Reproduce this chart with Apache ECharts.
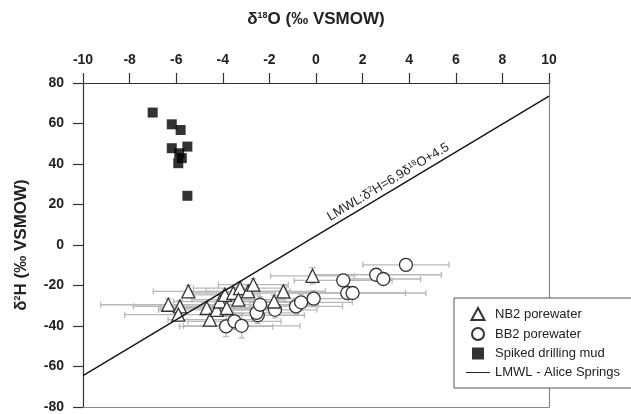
<!DOCTYPE html>
<html><head><meta charset="utf-8">
<script src="https://cdn.jsdelivr.net/npm/echarts@6/dist/echarts.min.js"></script>
<style>html,body{margin:0;padding:0;background:#fff}#c{width:631px;height:414px}</style>
</head><body><div id="c"></div>
<script>
// Axis ranges / ticks
const xMin = -10, xMax = 10, xStep = 2;
const yMin = -80, yMax = 80, yStep = 20;

// NB2 porewater (triangles)
const nb2X    = [-6.34, -5.84, -5.48, -5.91, -4.69, -4.55, -4.26, -4.12, -3.83, -3.91, -3.55, -3.26, -2.91, -2.69, -3.33, -1.80, -1.40, -0.15];
const nb2Y    = [-29.5, -30.3, -22.9, -34.4, -31.1, -36.9, -32.0, -27.9, -31.1, -24.6, -23.7, -21.3, -22.9, -19.6, -27.0, -27.9, -22.9, -15.2];
const nb2XErr = [2.9, 2.0, 1.5, 2.3, 2.0, 1.8, 2.5, 2.0, 2.2, 1.5, 1.8, 2.0, 1.8, 1.5, 2.0, 1.5, 1.8, 1.8];
const nb2YErr = [3, 3, 3, 3, 3, 3, 3, 3, 3, 3, 3, 3, 3, 3, 3, 3, 3, 4];

// BB2 porewater (circles)
const bb2X    = [-3.86, -3.50, -3.19, -2.50, -2.55, -2.40, -1.76, -0.86, -0.64, -0.10, 1.17, 1.34, 1.57, 2.58, 2.89, 3.86];
const bb2Y    = [-40.2, -37.7, -39.9, -34.7, -33.5, -29.5, -32.0, -30.3, -28.3, -26.5, -17.5, -23.7, -23.7, -14.7, -16.8, -9.8];
const bb2XErr = [2.0, 2.0, 2.5, 2.0, 1.8, 2.5, 1.8, 2.0, 2.2, 1.5, 2.1, 2.5, 3.15, 2.8, 1.6, 1.85];
const bb2YErr = [5, 4, 6, 4, 4, 4, 4, 4, 4, 4, 3, 3, 3, 3, 3, 3];

// Spiked drilling mud (squares)
const mudX = [-7.01, -6.19, -5.81, -6.19, -5.52, -5.87, -5.76, -5.91, -5.52];
const mudY = [65.4, 59.6, 56.8, 47.8, 48.6, 45.3, 42.9, 40.4, 24.3];

// LMWL: d2H = 6.9 d18O + 4.5
const lmwlSlope = 6.9, lmwlIntercept = 4.5;
const lmwlX = [-10, 10];
const lmwlLabelX = [-3.4, 10];

const FONT = 'Liberation Sans, Arial, sans-serif';

function errSeries(name, xs, ys, xe, ye) {
  return {
    type: 'custom', name: name, silent: true, z: 1, clip: false,
    encode: {x: 0, y: 1},
    data: xs.map((x, i) => [x, ys[i], xe[i], ye[i]]),
    renderItem: function (params, api) {
      const x = api.value(0), y = api.value(1), dx = api.value(2), dy = api.value(3);
      const l = api.coord([x - dx, y]), r = api.coord([x + dx, y]);
      const t = api.coord([x, y + dy]), b = api.coord([x, y - dy]);
      const c = 3;
      const st = {stroke: '#b8b8b8', lineWidth: 1.3};
      const ln = (x1, y1, x2, y2) => ({type: 'line', shape: {x1, y1, x2, y2}, style: st});
      return {type: 'group', children: [
        ln(l[0], l[1], r[0], r[1]),
        ln(l[0], l[1] - c, l[0], l[1] + c),
        ln(r[0], r[1] - c, r[0], r[1] + c),
        ln(t[0], t[1], b[0], b[1]),
        ln(t[0] - c, t[1], t[0] + c, t[1]),
        ln(b[0] - c, b[1], b[0] + c, b[1])
      ]};
    }
  };
}

const chart = echarts.init(document.getElementById('c'), null, {renderer: 'canvas'});
const supStyle = {fontSize: 9, fontWeight: 'bold', fontFamily: FONT, color: '#222', padding: [0, 0, 8, 0]};
chart.setOption({
  animation: false,
  backgroundColor: '#fff',
  grid: {left: 83, right: 82, top: 83, bottom: 7, containLabel: false},
  xAxis: [{
    type: 'value', position: 'top', min: xMin, max: xMax, interval: xStep,
    axisLine: {show: true, onZero: false, lineStyle: {color: '#333', width: 1.2}},
    axisTick: {show: true, inside: false, length: 10, lineStyle: {color: '#333', width: 1.2}},
    axisLabel: {margin: 16, fontSize: 14, fontWeight: 'bold', color: '#222', fontFamily: FONT},
    splitLine: {show: false},
    name: 'δ{sup|18}O (‰ VSMOW)', nameLocation: 'middle', nameGap: 55,
    nameTextStyle: {fontSize: 17, fontWeight: 'bold', color: '#222', fontFamily: FONT, rich: {sup: supStyle}}
  }, {
    type: 'value', position: 'bottom', min: xMin, max: xMax,
    axisLine: {show: true, onZero: false, lineStyle: {color: '#888', width: 1.2}},
    axisTick: {show: false}, axisLabel: {show: false}, splitLine: {show: false}
  }],
  yAxis: [{
    type: 'value', position: 'left', min: yMin, max: yMax, interval: yStep,
    axisLine: {show: true, onZero: false, lineStyle: {color: '#333', width: 1.2}},
    axisTick: {show: true, inside: false, length: 10, lineStyle: {color: '#333', width: 1.2}},
    axisLabel: {margin: 19, fontSize: 14, fontWeight: 'bold', color: '#222', fontFamily: FONT},
    splitLine: {show: false},
    name: 'δ{sup|2}H (‰ VSMOW)', nameLocation: 'middle', nameGap: 53, nameRotate: 90,
    nameTextStyle: {fontSize: 17, fontWeight: 'bold', color: '#222', fontFamily: FONT, rich: {sup: supStyle}}
  }, {
    type: 'value', position: 'right', min: yMin, max: yMax,
    axisLine: {show: true, onZero: false, lineStyle: {color: '#888', width: 1.2}},
    axisTick: {show: false}, axisLabel: {show: false}, splitLine: {show: false}
  }],
  legend: {
    orient: 'vertical', left: 454, top: 298,
    padding: [9, 40, 9, 12], itemGap: 6, itemWidth: 24, itemHeight: 12,
    backgroundColor: '#fff', borderColor: '#555', borderWidth: 1,
    symbolKeepAspect: true,
    textStyle: {fontSize: 13, color: '#222', fontFamily: FONT},
    data: [
      {name: 'NB2 porewater', icon: 'path://M6,0 L12,11 L0,11 Z'},
      {name: 'BB2 porewater', icon: 'circle'},
      {name: 'Spiked drilling mud', icon: 'path://M0,0 L10,0 L10,10 L0,10 Z'},
      {name: 'LMWL - Alice Springs', icon: 'path://M0,0 L26,0 L26,1 L0,1 Z'}
    ],
    z: 20
  },
  series: [
    errSeries('nb2err', nb2X, nb2Y, nb2XErr, nb2YErr),
    errSeries('bb2err', bb2X, bb2Y, bb2XErr, bb2YErr),
    {
      type: 'scatter', name: 'BB2 porewater', symbol: 'circle', symbolSize: 13, z: 3,
      itemStyle: {color: '#fff', borderColor: '#333', borderWidth: 1.3, opacity: 1},
      data: bb2X.map((x, i) => [x, bb2Y[i]])
    },
    {
      type: 'scatter', name: 'NB2 porewater', symbol: 'triangle', symbolSize: 13, z: 4,
      itemStyle: {color: '#fff', borderColor: '#333', borderWidth: 1.3, opacity: 1},
      data: nb2X.map((x, i) => [x, nb2Y[i]])
    },
    {
      type: 'scatter', name: 'Spiked drilling mud', symbol: 'rect', symbolSize: 10, z: 4,
      itemStyle: {color: '#000'},
      data: mudX.map((x, i) => [x, mudY[i]])
    },
    {
      type: 'line', name: 'LMWL - Alice Springs', symbol: 'none', z: 5, silent: true,
      itemStyle: {color: '#111'},
      lineStyle: {color: '#111', width: 1.3},
      data: lmwlX.map(x => [x, lmwlSlope * x + lmwlIntercept]),
      markLine: {
        silent: true, symbol: 'none', animation: false,
        lineStyle: {color: 'rgba(0,0,0,0)', width: 1, type: 'solid'},
        label: {
          show: true, position: 'middle', distance: 2,
          formatter: 'LMWL:δ{s|2}H=6.9δ{s|18}O+4.5',
          fontSize: 13, color: '#222', fontFamily: FONT, opacity: 1,
          rich: {s: {fontSize: 8, color: '#222', fontFamily: FONT, padding: [0, 0, 6, 0]}}
        },
        data: [[
          {coord: [lmwlLabelX[0], lmwlSlope * lmwlLabelX[0] + lmwlIntercept]},
          {coord: [lmwlLabelX[1], lmwlSlope * lmwlLabelX[1] + lmwlIntercept]}
        ]]
      }
    }
  ]
});
</script>
</body></html>
